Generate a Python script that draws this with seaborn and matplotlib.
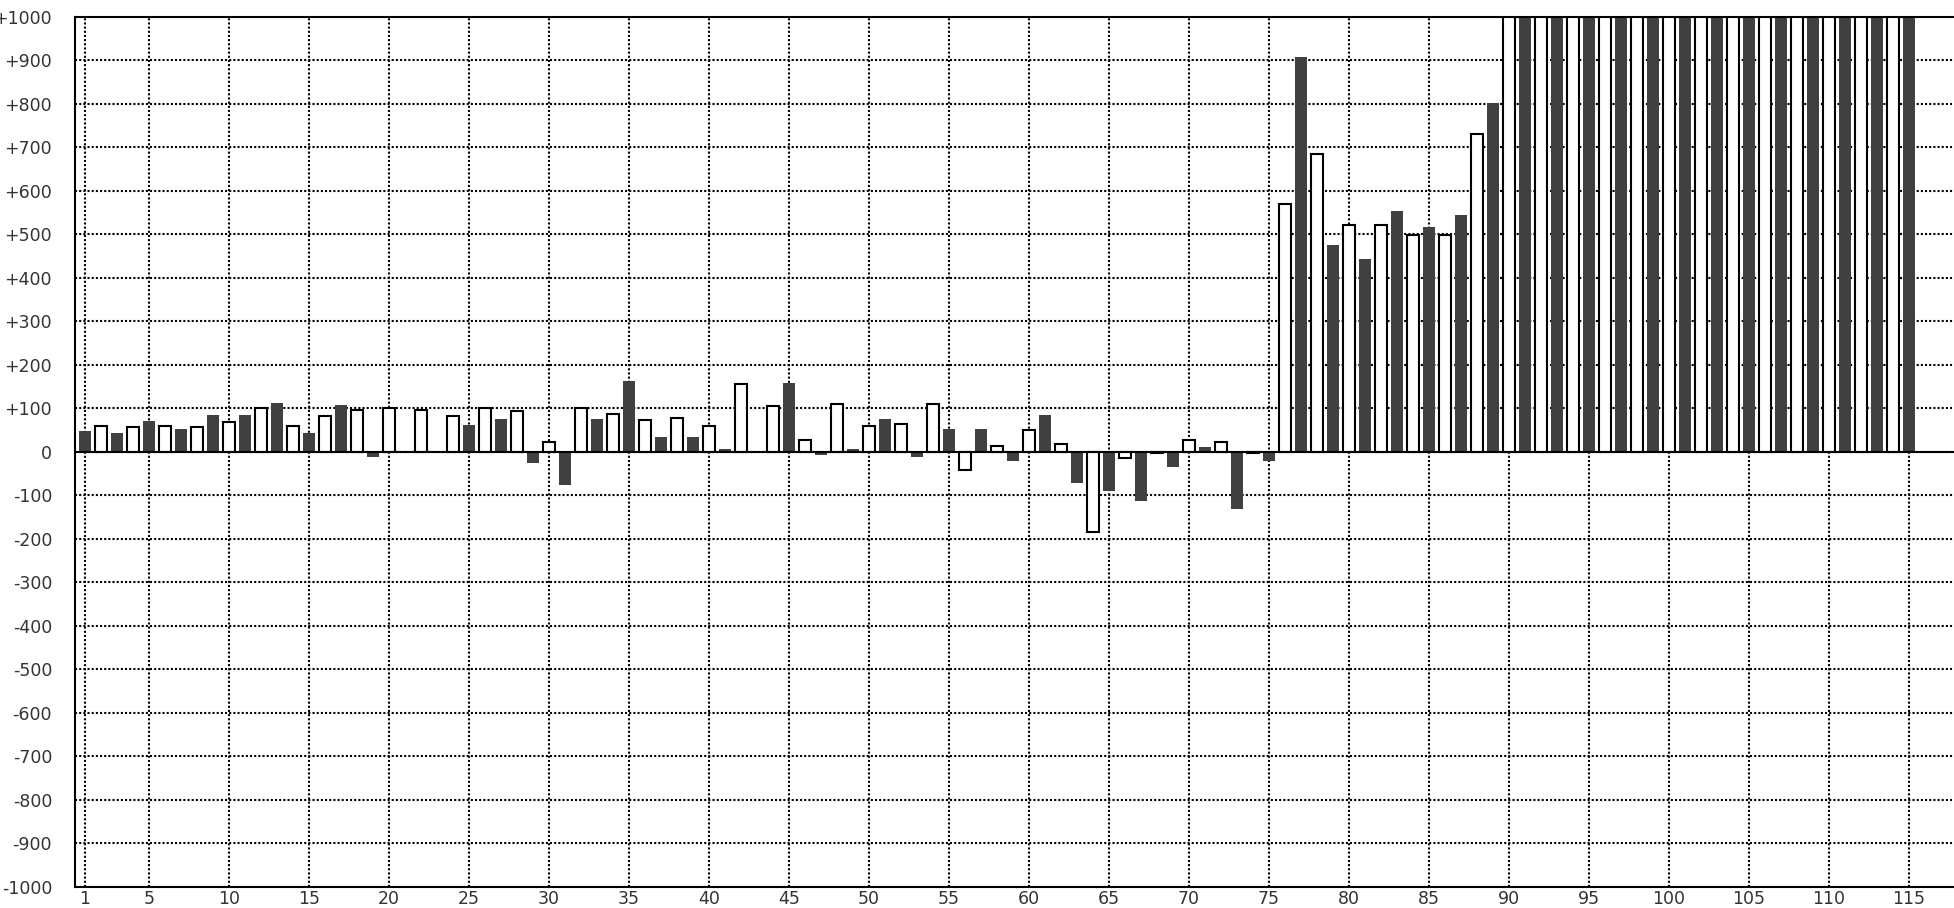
import numpy as np
import pandas as pd
import seaborn as sns
import matplotlib
matplotlib.use("Agg")
import matplotlib.pyplot as plt

# values per index 1..115 (odd = dark bars, even = white bars); 90+ run past the top
values = [48, 60, 43, 56, 70, 60, 52, 56, 84, 69,
          84, 101, 112, 60, 43, 83, 107, 97, -12, 101,
          0, 97, 0, 83, 61, 101, 75, 93, -26, 23,
          -76, 101, 75, 87, 162, 74, 34, 78, 34, 60,
          6, 156, 0, 106, 158, 28, -8, 110, 6, 60,
          75, 64, -12, 110, 52, -43, 52, 14, -21, 51,
          84, 18, -72, -184, -90, -15, -113, -4, -35, 28,
          11, 23, -132, -4, -21, 570, 907, 685, 475, 520,
          443, 520, 553, 497, 517, 497, 544, 731, 802] + [1050] * 26
index = list(range(1, len(values) + 1))
group = ["dark" if i % 2 else "light" for i in index]

xticks = [1] + list(range(5, 116, 5))
yticks = list(range(-1000, 1001, 100))
ylabels = [f"+{v}" if v > 0 else ("0" if v == 0 else f"-{abs(v)}") for v in yticks]

df = pd.DataFrame({"idx": index, "val": values, "grp": group})

sns.set_style("white")
plt.rcParams["font.family"] = ["DejaVu Sans"]

fig = plt.figure(figsize=(19.54, 9.08), dpi=100)
ax = fig.add_axes([75 / 1954, 21 / 908, 1881 / 1954, 870.5 / 908])

sns.barplot(data=df, x="idx", y="val", hue="grp", hue_order=["dark", "light"],
            palette={"dark": "#404040", "light": "white"}, native_scale=True,
            width=0.75, errorbar=None, legend=False, saturation=1,
            linewidth=0, ax=ax, zorder=2)

# white bars get a black outline
for bar in ax.containers[1]:
    bar.set_edgecolor("black")
    bar.set_linewidth(1.5)

ax.axhline(0, color="black", lw=1.5, zorder=3)

ax.set_xlim(0.375, 0.375 + 1881 / 16)
ax.set_ylim(-1000, 1000)
ax.set_xticks(xticks)
ax.set_xticklabels([str(t) for t in xticks])
ax.set_yticks(yticks)
ax.set_yticklabels(ylabels)
ax.set_xlabel("")
ax.set_ylabel("")

ax.grid(True, color="black", linestyle=(0, (1, 1)), linewidth=1.5, zorder=0)
ax.set_axisbelow(True)

ax.tick_params(axis="y", length=0, pad=16.5, labelsize=12.5, labelcolor="#333333")
ax.tick_params(axis="x", length=0, pad=2, labelsize=12.5, labelcolor="#333333")

for side in ["left", "bottom", "top"]:
    ax.spines[side].set_color("black")
    ax.spines[side].set_linewidth(1.5)
    ax.spines[side].set_zorder(4)
ax.spines["right"].set_visible(False)

fig.savefig("out.png", dpi=100)
